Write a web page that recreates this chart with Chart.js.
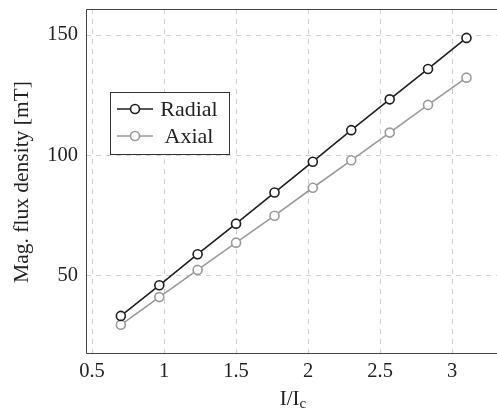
<!DOCTYPE html>
<html>
<head>
<meta charset="utf-8">
<script src="https://cdn.jsdelivr.net/npm/chart.js@4/dist/chart.umd.min.js"></script>
<style>
  html, body { margin: 0; padding: 0; background: #fff; overflow: hidden; }
  canvas { display: block; }
</style>
</head>
<body>
<canvas id="chart" width="497" height="411"></canvas>
<script>
// data
var currentRatio = [0.7, 0.967, 1.233, 1.5, 1.767, 2.033, 2.3, 2.567, 2.833, 3.1]
var radialField  = [33.4, 46.1, 59.0, 71.7, 84.6, 97.4, 110.5, 123.3, 135.9, 148.8]
var axialField   = [29.7, 41.2, 52.5, 63.8, 75.0, 86.6, 98.0, 109.5, 121.0, 132.3]
var xTicks = [0.5, 1, 1.5, 2, 2.5, 3]
var yTicks = [50, 100, 150]
var seriesNames = ['Radial', 'Axial']

var FONT = '"Liberation Serif", "DejaVu Serif", serif'
var DARK = '#1e1e1e'
var GREY = '#9a9a9a'

function points(ys) {
	return currentRatio.map(function (x, i) { return { x: x, y: ys[i] } })
}

function series(label, ys, color) {
	return {
		label: label,
		data: points(ys),
		borderColor: color,
		borderWidth: 1.6,
		pointRadius: 4.5,
		pointBorderWidth: 1.6,
		pointBorderColor: color,
		pointBackgroundColor: '#fff',
		showLine: true,
		fill: false,
		tension: 0
	}
}

// frame, axis titles and legend box drawn on the canvas
var decor = {
	id: 'decor',
	afterDraw: function (chart) {
		var ctx = chart.ctx
		var a = chart.chartArea
		ctx.save()
		// the right side of the frame falls just outside the picture
		ctx.strokeStyle = '#444'
		ctx.lineWidth = 1
		ctx.beginPath()
		ctx.moveTo(a.right + 2, a.top + 0.5)
		ctx.lineTo(a.left + 0.5, a.top + 0.5)
		ctx.lineTo(a.left + 0.5, a.bottom + 0.5)
		ctx.lineTo(a.right + 2, a.bottom + 0.5)
		ctx.stroke()

		// x title "I/I_c"
		ctx.fillStyle = '#222'
		ctx.textBaseline = 'alphabetic'
		var main = 'I/I'
		ctx.font = '21px ' + FONT
		var w1 = ctx.measureText(main).width
		ctx.font = '15px ' + FONT
		var w2 = ctx.measureText('c').width
		var x0 = 293 - (w1 + w2) / 2
		ctx.font = '21px ' + FONT
		ctx.textAlign = 'left'
		ctx.fillText(main, x0, 405)
		ctx.font = '15px ' + FONT
		ctx.fillText('c', x0 + w1, 408)

		// y title
		ctx.save()
		ctx.translate(28, 182)
		ctx.rotate(-Math.PI / 2)
		ctx.font = '21.5px ' + FONT
		ctx.textAlign = 'center'
		ctx.fillText('Mag. flux density [mT]', 0, 0)
		ctx.restore()

		// legend
		ctx.fillStyle = '#fff'
		ctx.fillRect(110, 92, 119, 62)
		ctx.strokeStyle = '#333'
		ctx.strokeRect(110.5, 92.5, 119, 62)
		var rows = [109, 136]
		chart.data.datasets.forEach(function (ds, i) {
			var y = rows[i]
			ctx.strokeStyle = ds.borderColor
			ctx.lineWidth = 1.6
			ctx.beginPath()
			ctx.moveTo(117, y)
			ctx.lineTo(153, y)
			ctx.stroke()
			ctx.beginPath()
			ctx.arc(135, y, 4.5, 0, Math.PI * 2)
			ctx.fillStyle = '#fff'
			ctx.fill()
			ctx.stroke()
			ctx.fillStyle = '#222'
			ctx.font = '22px ' + FONT
			ctx.textAlign = 'center'
			ctx.textBaseline = 'middle'
			ctx.fillText(ds.label, 189, y + 1)
		})
		ctx.restore()
	}
}

new Chart(document.getElementById('chart'), {
	type: 'scatter',
	data: {
		datasets: [
			series(seriesNames[0], radialField, DARK),
			series(seriesNames[1], axialField, GREY)
		]
	},
	options: {
		responsive: false,
		animation: false,
		layout: { autoPadding: false, padding: { top: 9, right: 0, left: 0, bottom: 0 } },
		plugins: {
			legend: { display: false },
			tooltip: { enabled: false }
		},
		scales: {
			x: {
				type: 'linear',
				min: 0.458,
				max: 3.312,
				afterBuildTicks: function (s) { s.ticks = xTicks.map(function (v) { return { value: v } }) },
				afterFit: function (s) {
					s.height = 58
					s.paddingLeft = 0
					s.paddingRight = 0
				},
				grid: { color: '#cfcfcf', lineWidth: 1, drawTicks: false },
				border: { display: false, dash: [5, 5] },
				ticks: {
					padding: 6,
					color: '#222',
					font: { family: FONT, size: 20.5 },
					maxRotation: 0,
					callback: function (v) { return String(v) }
				}
			},
			y: {
				min: 18,
				max: 160.8,
				afterBuildTicks: function (s) { s.ticks = yTicks.map(function (v) { return { value: v } }) },
				afterFit: function (s) {
					s.width = 86
					s.paddingTop = 0
					s.paddingBottom = 0
				},
				grid: { color: '#cfcfcf', lineWidth: 1, drawTicks: false },
				border: { display: false, dash: [5, 5] },
				ticks: {
					padding: 8,
					color: '#222',
					font: { family: FONT, size: 20.5 },
					callback: function (v) { return String(v) }
				}
			}
		}
	},
	plugins: [decor]
})
</script>
</body>
</html>
